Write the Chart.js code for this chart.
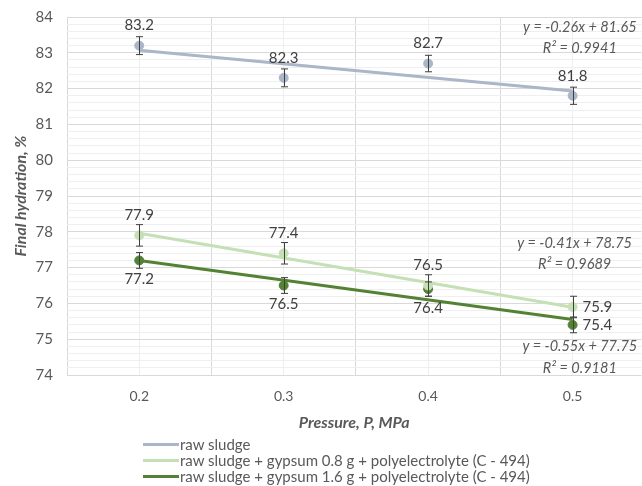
<!DOCTYPE html>
<html>
<head>
<meta charset="utf-8">
<script src="https://cdn.jsdelivr.net/npm/chart.js@4"></script>
<style>
  html, body { margin: 0; padding: 0; background: #fff; overflow: hidden; }
  #wrap { position: relative; width: 642px; height: 486px; overflow: hidden; }
  #legend { position: absolute; left: 143px; top: 436px; font-family: Lato, "Open Sans", sans-serif; font-size: 15px; color: #595959; }
  .row { display: flex; align-items: center; height: 16px; }
  .swatch { width: 36px; height: 3px; margin-right: 1px; }
</style>
</head>
<body>
<div id="wrap">
  <!-- the plot runs off the right edge, so the canvas is a little wider than the frame -->
  <canvas id="chart" width="647" height="486"></canvas>
  <div id="legend"></div>
</div>
<script>
const pressure = [0.2, 0.3, 0.4, 0.5];
const xTickLabels = ["0.2", "0.3", "0.4", "0.5"];
const yTickLabels = [74, 75, 76, 77, 78, 79, 80, 81, 82, 83, 84];

const seriesNames = [
  "raw sludge",
  "raw sludge + gypsum 0.8 g + polyelectrolyte (C - 494)",
  "raw sludge + gypsum 1.6 g + polyelectrolyte (C - 494)",
];
const rawSludge = [83.2, 82.3, 82.7, 81.8];
const gypsum08 = [77.9, 77.4, 76.5, 75.9];
const gypsum16 = [77.2, 76.5, 76.4, 75.4];

const errRaw = [0.25, 0.25, 0.23, 0.24];
const err08 = [0.3, 0.3, 0.3, 0.3];
const err16 = [0.22, 0.22, 0.2, 0.22];

// fitted line ends at 0.2 and 0.5
const trendRaw = [83.07, 81.93];
const trend08 = [77.96, 75.89];
const trend16 = [77.2, 75.55];

const equations = [
  ["y = -0.26x + 81.65", "R² = 0.9941"],
  ["y = -0.41x + 78.75", "R² = 0.9689"],
  ["y = -0.55x + 77.75", "R² = 0.9181"],
];

const colors = ["#abb6c9", "#c5e0b4", "#548235"];
const FONT = 'Lato, "Open Sans", sans-serif';
const textGrey = "#595959";

const series = [
  { values: rawSludge, err: errRaw, trend: trendRaw, place: ["top", "top", "top", "top"] },
  { values: gypsum08, err: err08, trend: trend08, place: ["top", "top", "top", "right"] },
  { values: gypsum16, err: err16, trend: trend16, place: ["bottom", "bottom", "bottom", "right"] },
];

// where each equation block sits: [x value, y value of first line, y of second line]
const eqAnchor = [
  [0.505, 83.72, 83.13],
  [0.5014, 77.69, 77.1],
  [0.505, 74.79, 74.2],
];

const datasets = [];
series.forEach((s, i) => {
  datasets.push({
    type: "line",
    label: seriesNames[i] + " trend",
    data: [{ x: pressure[0], y: s.trend[0] }, { x: pressure[3], y: s.trend[1] }],
    borderColor: colors[i],
    borderWidth: 3,
    pointRadius: 0,
    order: 1,
  });
  datasets.push({
    type: "scatter",
    label: seriesNames[i],
    data: pressure.map((p, k) => ({ x: p, y: s.values[k] })),
    backgroundColor: colors[i],
    borderColor: colors[i],
    pointRadius: 4.5,
    order: 2,
  });
});

const overlay = {
  id: "overlay",
  afterDatasetsDraw(chart) {
    const { ctx, scales: { x, y } } = chart;
    ctx.save();
    // error bars
    ctx.strokeStyle = "#3f3f3f";
    ctx.lineWidth = 1;
    series.forEach((s) => {
      pressure.forEach((p, k) => {
        const px = Math.round(x.getPixelForValue(p)) + 0.5;
        const top = y.getPixelForValue(s.values[k] + s.err[k]);
        const bot = y.getPixelForValue(s.values[k] - s.err[k]);
        ctx.beginPath();
        ctx.moveTo(px, top); ctx.lineTo(px, bot);
        ctx.moveTo(px - 3.5, top); ctx.lineTo(px + 3.5, top);
        ctx.moveTo(px - 3.5, bot); ctx.lineTo(px + 3.5, bot);
        ctx.stroke();
      });
    });
    // value labels
    ctx.fillStyle = "#404040";
    ctx.font = "15px " + FONT;
    series.forEach((s) => {
      pressure.forEach((p, k) => {
        const px = x.getPixelForValue(p);
        const py = y.getPixelForValue(s.values[k]);
        const txt = s.values[k].toFixed(1);
        if (s.place[k] === "top") {
          ctx.textAlign = "center"; ctx.textBaseline = "middle";
          ctx.fillText(txt, px, py - 20);
        } else if (s.place[k] === "bottom") {
          ctx.textAlign = "center"; ctx.textBaseline = "middle";
          ctx.fillText(txt, px, py + 19);
        } else {
          ctx.textAlign = "left"; ctx.textBaseline = "middle";
          ctx.fillText(txt, px + 10, py);
        }
      });
    });
    // trend equations
    ctx.fillStyle = textGrey;
    ctx.font = "italic 14.5px " + FONT;
    ctx.textAlign = "center";
    ctx.textBaseline = "middle";
    equations.forEach((eq, i) => {
      const [ax, ay1, ay2] = eqAnchor[i];
      const px = x.getPixelForValue(ax);
      ctx.fillText(eq[0], px, y.getPixelForValue(ay1));
      ctx.fillText(eq[1], px, y.getPixelForValue(ay2));
    });
    ctx.restore();
  },
};

const yGridValues = [];
for (let i = 0; i <= 50; i++) yGridValues.push(Math.round((74 + i * 0.2) * 10) / 10);
const xGridValues = [0.15, 0.2, 0.25, 0.3, 0.35, 0.4, 0.45, 0.5];
const X_MIN = 0.15, X_MAX = 0.5477;

new Chart(document.getElementById("chart"), {
  data: { datasets },
  plugins: [overlay],
  options: {
    responsive: false,
    animation: false,
    layout: { padding: { top: 17, right: 0, left: 0, bottom: 0 } },
    plugins: { legend: { display: false }, tooltip: { enabled: false } },
    scales: {
      x: {
        type: "linear",
        bounds: "data",
        min: X_MIN,
        max: X_MAX,
        afterBuildTicks: (scale) => {
          scale.ticks = xGridValues.map((v) => ({ value: v }));
          scale.min = X_MIN;
          scale.max = X_MAX;
        },
        afterFit: (scale) => {
          scale.height = 111;
          scale.paddingLeft = 0;
          scale.paddingRight = 0;
        },
        border: { display: false },
        grid: {
          drawTicks: false,
          color: (c) => {
            const v = Math.round(c.tick.value * 100);
            return v % 10 === 5 ? "#d9d9d9" : "#efefef";
          },
        },
        ticks: {
          autoSkip: false,
          maxRotation: 0,
          padding: 13,
          color: textGrey,
          font: { family: FONT, size: 14 },
          callback: (v) => {
            const idx = pressure.findIndex((p) => Math.abs(p - v) < 1e-6);
            return idx >= 0 ? xTickLabels[idx] : "";
          },
        },
        title: {
          display: true,
          text: "Pressure, P, MPa",
          color: textGrey,
          font: { family: FONT, size: 16, weight: "bold", style: "italic" },
          padding: { top: 0, bottom: 54 },
        },
      },
      y: {
        min: 74,
        max: 84,
        afterBuildTicks: (scale) => {
          scale.ticks = yGridValues.map((v) => ({ value: v }));
          scale.min = 74;
          scale.max = 84;
        },
        afterFit: (scale) => {
          scale.width = 67;
          scale.paddingTop = 0;
          scale.paddingBottom = 0;
        },
        border: { display: false },
        grid: {
          drawTicks: false,
          color: (c) => (yTickLabels.includes(c.tick.value) ? "#d9d9d9" : "#efefef"),
        },
        ticks: {
          autoSkip: false,
          padding: 14,
          color: textGrey,
          font: { family: FONT, size: 15 },
          callback: (v) => (yTickLabels.includes(v) ? String(v) : ""),
        },
        title: {
          display: true,
          text: "Final hydration, %",
          color: textGrey,
          font: { family: FONT, size: 16, weight: "bold", style: "italic" },
          padding: { top: 11, bottom: 0 },
        },
      },
    },
  },
});

// legend below the chart
const legend = document.getElementById("legend");
seriesNames.forEach((name, i) => {
  const row = document.createElement("div");
  row.className = "row";
  row.innerHTML = `<span class="swatch" style="background:${colors[i]}"></span><span>${name}</span>`;
  legend.appendChild(row);
});
</script>
</body>
</html>
